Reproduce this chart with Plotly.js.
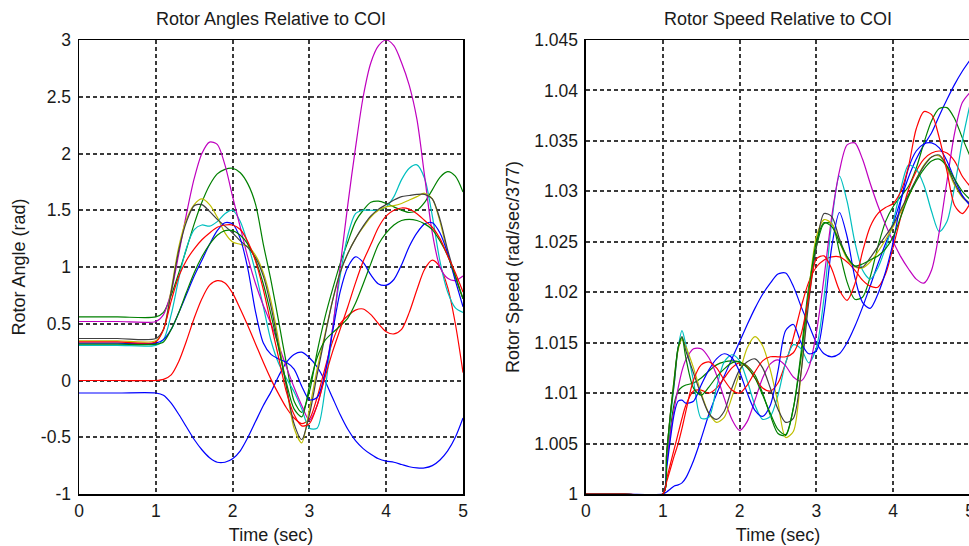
<!DOCTYPE html>
<html>
<head>
<meta charset="utf-8">
<script src="https://cdn.plot.ly/plotly-3.0.1.min.js"></script>
<style>
html,body{margin:0;padding:0;overflow:hidden;background:#fff;}
#chart{width:975px;height:546px;}
</style>
</head>
<body>
<div id="chart"></div>
<script>
// ---------- shared ticks ----------
const timeTickVals = [0, 1, 2, 3, 4, 5];
const timeTickText = ["0", "1", "2", "3", "4", "5"];
const angleTickVals = [-1, -0.5, 0, 0.5, 1, 1.5, 2, 2.5, 3];
const angleTickText = ["-1", "-0.5", "0", "0.5", "1", "1.5", "2", "2.5", "3"];
const speedTickVals = [1, 1.005, 1.01, 1.015, 1.02, 1.025, 1.03, 1.035, 1.04, 1.045];
const speedTickText = ["1", "1.005", "1.01", "1.015", "1.02", "1.025", "1.03", "1.035", "1.04", "1.045"];

// ---------- left panel: rotor angles (rad) ----------
const timeAngle = [0, 0.5, 1.0, 1.1, 1.2, 1.3, 1.4, 1.5, 1.6, 1.7, 1.8, 1.9,
  2.0, 2.1, 2.2, 2.3, 2.4, 2.5, 2.6, 2.7, 2.8, 2.9,
  3.0, 3.1, 3.2, 3.3, 3.4, 3.5, 3.6, 3.7, 3.8, 3.9,
  4.0, 4.1, 4.2, 4.3, 4.4, 4.5, 4.6, 4.7, 4.8, 4.9, 5.0];

const angBlue1 = [-0.11,-0.11, -0.11,-0.13,-0.2,-0.3,-0.41,-0.52,-0.61,-0.68,-0.72,-0.72,
  -0.69,-0.62,-0.5,-0.36,-0.22,-0.1,0.04,0.16,0.23,0.25,
  0.2,0.12,0.0,-0.15,-0.3,-0.43,-0.53,-0.6,-0.65,-0.69,
  -0.71,-0.72,-0.74,-0.76,-0.77,-0.77,-0.75,-0.7,-0.62,-0.5, -0.33];
const angGreen1 = [0.56,0.56, 0.56,0.6,0.75,0.95,1.16,1.38,1.57,1.72,1.82,1.86,
  1.87,1.83,1.73,1.55,1.2,0.88,0.52,0.15,-0.18,-0.28,
  -0.1,0.25,0.55,0.8,1.03,1.22,1.4,1.5,1.57,1.58,
  1.56,1.53,1.5,1.48,1.5,1.57,1.68,1.79,1.84,1.8, 1.66];
const angRed1 = [0,0, 0,0.01,0.05,0.17,0.35,0.55,0.72,0.84,0.88,0.86,
  0.77,0.63,0.48,0.32,0.16,0.01,-0.12,-0.24,-0.33,-0.38,
  -0.34,-0.15,0.1,0.34,0.5,0.57,0.62,0.63,0.58,0.5,
  0.43,0.41,0.45,0.6,0.8,0.98,1.06,1.0,0.82,0.5, 0.07];
const angCyan = [0.31,0.31, 0.31,0.36,0.58,0.9,1.17,1.33,1.37,1.36,1.4,1.47,
  1.5,1.4,1.2,0.95,0.65,0.35,0.15,0.02,-0.1,-0.25,
  -0.42,-0.42,-0.1,0.45,0.92,1.28,1.47,1.5,1.5,1.5,
  1.53,1.62,1.77,1.87,1.9,1.78,1.45,1.05,0.78,0.64, 0.6];
const angMagenta = [0.52,0.52, 0.52,0.58,0.78,1.12,1.47,1.78,2.0,2.1,2.08,1.9,
  1.62,1.35,1.08,0.85,0.66,0.5,0.31,0.12,-0.06,-0.22,
  -0.35,-0.22,0.05,0.45,1.0,1.55,2.05,2.5,2.8,2.95,
  3.0,2.95,2.8,2.6,2.3,1.8,1.3,1.0,0.9,0.88, 0.92];
const angYellow = [0.35,0.35, 0.35,0.45,0.8,1.18,1.42,1.55,1.6,1.55,1.44,1.3,
  1.22,1.2,1.18,1.1,0.95,0.7,0.35,-0.05,-0.42,-0.55,
  -0.25,0.1,0.4,0.7,0.95,1.12,1.25,1.35,1.44,1.5,
  1.53,1.54,1.56,1.59,1.62,1.65,1.6,1.4,1.12,0.9, 0.72];
const angGray = [0.37,0.37, 0.37,0.45,0.78,1.15,1.4,1.54,1.55,1.49,1.42,1.36,
  1.3,1.23,1.17,1.08,0.92,0.65,0.3,-0.05,-0.38,-0.52,
  -0.3,0.05,0.38,0.7,0.95,1.12,1.25,1.36,1.45,1.51,
  1.55,1.59,1.62,1.63,1.64,1.64,1.6,1.42,1.15,0.92, 0.72];
const angBlue2 = [0.33,0.33, 0.33,0.36,0.45,0.6,0.76,0.92,1.06,1.2,1.32,1.39,
  1.38,1.25,0.98,0.6,0.33,0.23,0.19,0.16,0.1,-0.05,
  -0.17,-0.15,0.05,0.42,0.78,1.0,1.09,1.04,0.93,0.85,
  0.84,0.89,1.02,1.18,1.3,1.38,1.39,1.3,1.12,0.88, 0.65];
const angGreen2 = [0.32,0.32, 0.32,0.34,0.45,0.6,0.78,0.95,1.09,1.2,1.28,1.32,
  1.32,1.28,1.2,1.06,0.85,0.58,0.28,-0.02,-0.25,-0.32,
  -0.05,0.2,0.35,0.42,0.48,0.55,0.68,0.85,1.03,1.2,
  1.3,1.37,1.41,1.42,1.41,1.38,1.33,1.23,1.1,0.92, 0.72];
const angRed2 = [0.34,0.34, 0.34,0.45,0.7,0.92,1.06,1.16,1.24,1.3,1.35,1.37,
  1.37,1.33,1.22,1.05,0.8,0.5,0.2,-0.1,-0.3,-0.4,
  -0.38,-0.22,0.02,0.25,0.45,0.65,0.86,1.05,1.2,1.35,
  1.45,1.5,1.52,1.51,1.47,1.41,1.35,1.25,1.1,0.95, 0.78];

// ---------- right panel: rotor speeds (rad/sec/377) ----------
const timeSpeed = [0, 0.5, 1.0, 1.05, 1.1, 1.15, 1.2, 1.25, 1.3,
  1.4, 1.5, 1.6, 1.7, 1.8, 1.9, 2.0, 2.1, 2.2, 2.3,
  2.4, 2.5, 2.6, 2.7, 2.8, 2.9, 3.0, 3.1, 3.2, 3.3,
  3.4, 3.5, 3.6, 3.7, 3.8, 3.9, 4.0, 4.1, 4.2, 4.3,
  4.4, 4.5, 4.6, 4.7, 4.8, 4.9, 5.0];

const spdBlue1 = [1,1,1, 1.0002,1.0005,1.0008,1.0009,1.0011,1.0016,
  1.0033,1.0055,1.0079,1.0099,1.0117,1.0134,1.0151,1.0168,1.0184,1.0198,
  1.0209,1.0218,1.0219,1.0206,1.0186,1.0168,1.0150,1.0139,1.0136,1.0139,
  1.0150,1.0166,1.0185,1.0206,1.0228,1.0248,1.0268,1.0292,1.0314,1.0332,
  1.0346,1.0358,1.0375,1.0391,1.0406,1.0419,1.0430];
const spdGreen1 = [1,1,1, 1.003,1.0065,1.009,1.0102,1.0106,1.0108,
  1.0110,1.0115,1.0122,1.0128,1.0131,1.0132,1.0131,1.0127,1.0118,1.0100,
  1.0078,1.0060,1.0058,1.0085,1.0140,1.0205,1.0245,1.0268,1.0268,1.0240,
  1.0210,1.0193,1.0195,1.0215,1.0245,1.0270,1.0285,1.0295,1.0305,1.0323,
  1.0348,1.0370,1.0382,1.0383,1.0372,1.0353,1.0335];
const spdRed2 = [1,1,1, 1.0015,1.003,1.0045,1.006,1.0075,1.0088,
  1.0102,1.0103,1.0100,1.0105,1.0115,1.0125,1.0130,1.0126,1.0115,1.0105,
  1.0102,1.0110,1.0130,1.0155,1.0185,1.0210,1.0225,1.0232,1.0235,1.0235,
  1.0230,1.0222,1.0212,1.0206,1.0205,1.0218,1.0245,1.0275,1.0302,1.0320,
  1.0332,1.0338,1.0340,1.0338,1.0330,1.0315,1.0305];
const spdCyan = [1,1,1, 1.0035,1.0075,1.011,1.0145,1.0162,1.0148,
  1.0112,1.0075,1.0076,1.0106,1.0131,1.0138,1.0132,1.0112,1.0088,1.0074,
  1.0077,1.0098,1.0130,1.0148,1.0144,1.0130,1.0145,1.0195,1.0270,1.0315,
  1.0290,1.0250,1.0222,1.0213,1.0224,1.0244,1.0270,1.0303,1.0326,1.0322,
  1.0306,1.0280,1.0260,1.0270,1.0305,1.0350,1.0386];
const spdMagenta = [1,1,1, 1.003,1.006,1.0085,1.0105,1.0122,1.0133,
  1.0144,1.0144,1.0135,1.0118,1.0095,1.0074,1.0063,1.0072,1.0093,1.0115,
  1.0129,1.0133,1.0127,1.0116,1.0112,1.0125,1.0160,1.0215,1.0275,1.0320,
  1.0346,1.0348,1.0332,1.0308,1.0286,1.0267,1.0250,1.0235,1.0223,1.0213,
  1.0209,1.0222,1.0260,1.0310,1.0358,1.0388,1.0398];
const spdYellow = [1,1,1, 1.004,1.008,1.0115,1.0143,1.0153,1.0146,
  1.0125,1.0100,1.0080,1.0071,1.0076,1.0096,1.0120,1.0145,1.0156,1.0147,
  1.0123,1.0090,1.0056,1.0062,1.0120,1.0200,1.0255,1.0272,1.0268,1.0250,
  1.0233,1.0225,1.0224,1.0230,1.0240,1.0252,1.0265,1.0280,1.0295,1.0312,
  1.0326,1.0334,1.0335,1.0323,1.0306,1.0294,1.0287];
const spdGray = [1,1,1, 1.004,1.008,1.011,1.0145,1.0156,1.0142,
  1.0120,1.0098,1.0080,1.0074,1.0082,1.0105,1.0123,1.0131,1.0134,1.0125,
  1.0105,1.0084,1.0071,1.0075,1.0120,1.0190,1.0245,1.0278,1.0275,1.0253,
  1.0235,1.0226,1.0225,1.0234,1.0245,1.0256,1.0267,1.0282,1.0297,1.0312,
  1.0325,1.0334,1.0336,1.0325,1.0308,1.0295,1.0288];
const spdBlue2 = [1,1,1, 1.0025,1.0055,1.008,1.0092,1.0093,1.009,
  1.0092,1.0108,1.0123,1.0134,1.0139,1.0135,1.0121,1.0100,1.0083,1.0077,
  1.0088,1.0122,1.0162,1.0168,1.0150,1.0139,1.0142,1.0180,1.0245,1.0279,
  1.0255,1.0215,1.0190,1.0184,1.0198,1.0220,1.0250,1.0290,1.0323,1.0340,
  1.0347,1.0348,1.0343,1.0330,1.0312,1.0296,1.0286];
const spdGreen2 = [1,1,1, 1.004,1.008,1.0115,1.0145,1.0155,1.0135,
  1.0105,1.0098,1.0106,1.0116,1.0124,1.0130,1.0131,1.0125,1.0115,1.0098,
  1.0080,1.0064,1.0059,1.0085,1.0135,1.0200,1.0250,1.0269,1.0265,1.0250,
  1.0235,1.0226,1.0228,1.0232,1.0236,1.0243,1.0255,1.0275,1.0295,1.0310,
  1.0322,1.0330,1.0332,1.0325,1.0312,1.0300,1.0292];
const spdRed1 = [1,1,1, 1.0012,1.0025,1.0038,1.0050,1.0065,1.0082,
  1.0113,1.0128,1.0131,1.0125,1.0113,1.0103,1.0100,1.0108,1.0121,1.0132,
  1.0136,1.0136,1.0136,1.0140,1.0158,1.0195,1.0233,1.0236,1.0223,1.0202,
  1.0192,1.0208,1.0240,1.0265,1.0278,1.0284,1.0288,1.0300,1.0325,1.0362,
  1.0379,1.0376,1.0353,1.0320,1.0286,1.0278,1.0288];

// ---------- colours (classic MATLAB line colours) ----------
const C = {b:'#0000ff', g:'#008000', r:'#ff0000', c:'#00bfbf', m:'#bf00bf', y:'#bfbf00', k:'#404040'};

const angleSeries = [
  [angBlue1, C.b], [angGreen1, C.g], [angRed1, C.r], [angCyan, C.c], [angMagenta, C.m],
  [angYellow, C.y], [angGray, C.k], [angBlue2, C.b], [angGreen2, C.g], [angRed2, C.r]
];
const speedSeries = [
  [spdBlue1, C.b], [spdGreen1, C.g], [spdRed2, C.r], [spdCyan, C.c], [spdMagenta, C.m],
  [spdYellow, C.y], [spdGray, C.k], [spdBlue2, C.b], [spdGreen2, C.g], [spdRed1, C.r]
];

const traces = [];
angleSeries.forEach(([ys, col]) => traces.push({
  x: timeAngle, y: ys, xaxis: 'x', yaxis: 'y', type: 'scatter', mode: 'lines',
  line: {color: col, width: 1.2, shape: 'spline', smoothing: 0.8}, hoverinfo: 'skip'
}));
speedSeries.forEach(([ys, col]) => traces.push({
  x: timeSpeed, y: ys, xaxis: 'x2', yaxis: 'y2', type: 'scatter', mode: 'lines',
  line: {color: col, width: 1.2, shape: 'spline', smoothing: 0.8}, hoverinfo: 'skip'
}));

const FONT = '"Liberation Sans", Arial, sans-serif';
const TXT = '#1a1a1a';
const gridStyle = {
  showgrid: true, gridcolor: '#3a3a3a', gridwidth: 2, griddash: '4px,3px',
  zeroline: false, showline: true, linecolor: '#000', linewidth: 1.5, mirror: true,
  ticks: '', tickfont: {family: FONT, size: 17.5, color: TXT}
};

const layout = {
  width: 975, height: 546,
  margin: {l: 79, r: 5, t: 40, b: 52},
  paper_bgcolor: '#fff', plot_bgcolor: '#fff',
  showlegend: false,
  font: {family: FONT, size: 17.5, color: TXT},
  xaxis: Object.assign({}, gridStyle, {
    domain: [0, 0.431], range: [0, 5], anchor: 'y',
    tickmode: 'array', tickvals: timeTickVals, ticktext: timeTickText,
    title: {text: 'Time (sec)', font: {family: FONT, size: 18, color: TXT}, standoff: 9}
  }),
  yaxis: Object.assign({}, gridStyle, {
    domain: [0, 1], range: [-1, 3], anchor: 'x',
    tickmode: 'array', tickvals: angleTickVals, ticktext: angleTickText,
    ticklabelstandoff: 3,
    title: {text: 'Rotor Angle (rad)', font: {family: FONT, size: 18, color: TXT}, standoff: 10}
  }),
  xaxis2: Object.assign({}, gridStyle, {
    domain: [0.569, 1], range: [0, 5], anchor: 'y2', layer: 'below traces',
    tickmode: 'array', tickvals: timeTickVals, ticktext: timeTickText,
    title: {text: 'Time (sec)', font: {family: FONT, size: 18, color: TXT}, standoff: 9}
  }),
  yaxis2: Object.assign({}, gridStyle, {
    domain: [0, 1], range: [1, 1.045], anchor: 'x2',
    tickmode: 'array', tickvals: speedTickVals, ticktext: speedTickText,
    ticklabelstandoff: 3,
    title: {text: 'Rotor Speed (rad/sec/377)', font: {family: FONT, size: 18, color: TXT}, standoff: 10}
  }),
  annotations: [
    {text: 'Rotor Angles Relative to COI', xref: 'paper', yref: 'paper', x: 0.2155, y: 1.046,
     xanchor: 'center', yanchor: 'middle', showarrow: false, font: {family: FONT, size: 18, color: TXT}},
    {text: 'Rotor Speed Relative to COI', xref: 'paper', yref: 'paper', x: 0.7845, y: 1.046,
     xanchor: 'center', yanchor: 'middle', showarrow: false, font: {family: FONT, size: 18, color: TXT}}
  ]
};

Plotly.newPlot('chart', traces, layout, {staticPlot: true, displayModeBar: false});
</script>
</body>
</html>
